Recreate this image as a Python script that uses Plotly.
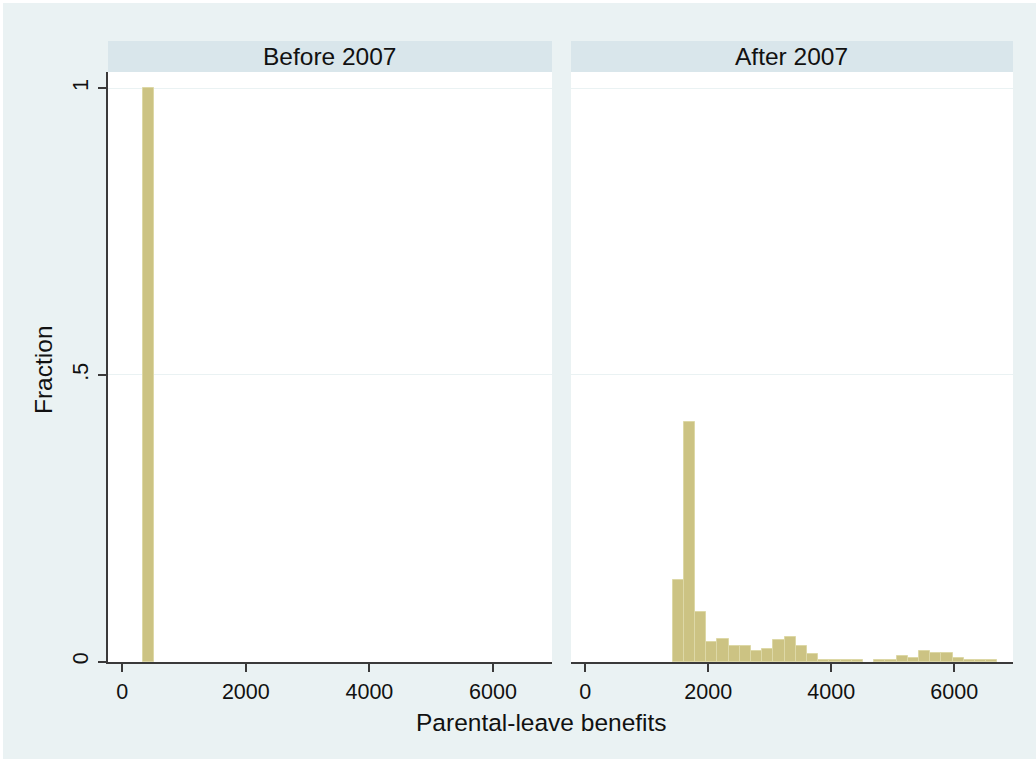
import plotly.graph_objects as go

# ---- data ----
panel_titles = ["Before 2007", "After 2007"]
bin_start = 330
bin_width = 182
frac_before = [1.0] + [0.0] * 35
frac_after = [0, 0, 0, 0, 0, 0,
              0.142, 0.417, 0.0855, 0.0335, 0.040, 0.0272, 0.0272, 0.0185, 0.021,
              0.037, 0.043, 0.0272, 0.0125, 0.003, 0.003, 0.003, 0.003, 0.0,
              0.003, 0.003, 0.0096, 0.0066, 0.019, 0.0154, 0.0154, 0.0066,
              0.003, 0.003, 0.003]
x_ticks = [0, 2000, 4000, 6000]
y_ticks = [0, 0.5, 1]
y_ticklabels = ["0", ".5", "1"]
x_title = "Parental-leave benefits"
y_title = "Fraction"

W, H = 1036, 759
ML, MR, MT, MB = 108, 23, 72, 97
PW = W - ML - MR
PH = H - MT - MB

BG = "#EAF2F3"
STRIP = "#D9E6EB"
BAR = "#CCC383"
BAR_LINE = "#DDD8A6"
AXIS = "#3a3a3a"
FONT = "Liberation Sans, Arial, sans-serif"

def px_x(p):
    return (p - ML) / PW

def px_y(p):
    return (H - MB - p) / PH

fig = go.Figure()
for vals, xa, ya in [(frac_before, "x", "y"), (frac_after, "x2", "y2")]:
    edges = [bin_start + i * bin_width for i, v in enumerate(vals) if v > 0]
    heights = [v for v in vals if v > 0]
    fig.add_trace(go.Bar(
        x=edges, y=heights, width=bin_width, offset=0,
        marker=dict(color=BAR, line=dict(color=BAR_LINE, width=1)),
        xaxis=xa, yaxis=ya,
        showlegend=False, hoverinfo="x+y",
    ))

dom1 = [0, px_x(552)]
dom2 = [px_x(571), 1]
xrange = [-230, 6955]
yrange = [-0.00087, 1.0284]

xcommon = dict(range=xrange, tickvals=x_ticks, ticks="outside", ticklen=8,
               tickwidth=1.5, tickcolor=AXIS, showline=True, linecolor=AXIS,
               linewidth=2, showgrid=False, zeroline=False,
               tickfont=dict(family=FONT, size=21.5, color="#111"),
               ticklabelstandoff=1)
fig.update_layout(
    xaxis=dict(domain=dom1, anchor="y", **xcommon),
    xaxis2=dict(domain=dom2, anchor="y2", **xcommon),
    yaxis=dict(domain=[0, 1], anchor="x", range=yrange, tickvals=y_ticks,
               ticktext=y_ticklabels, ticks="outside", ticklen=8, tickwidth=1.5,
               tickcolor=AXIS, showline=True, linecolor=AXIS, linewidth=1.5,
               showgrid=True, gridcolor=BG, gridwidth=1, zeroline=False,
               tickangle=-90, ticklabelstandoff=2,
               tickfont=dict(family=FONT, size=21.5, color="#111")),
    yaxis2=dict(domain=[0, 1], anchor="x2", range=yrange, tickvals=y_ticks,
                showticklabels=False, ticks="", showline=False,
                showgrid=True, gridcolor=BG, gridwidth=1, zeroline=False),
    width=W, height=H,
    margin=dict(l=ML, r=MR, t=MT, b=MB, pad=0),
    paper_bgcolor="white", plot_bgcolor="white",
    bargap=0,
)

shapes = [
    # outer graph region (3px white border at top/left)
    dict(type="rect", xref="paper", yref="paper", layer="below",
         x0=px_x(3), x1=px_x(W), y0=px_y(H), y1=px_y(3),
         fillcolor=BG, line=dict(width=0)),
    # plot regions
    dict(type="rect", xref="paper", yref="paper", layer="below",
         x0=dom1[0], x1=dom1[1], y0=0, y1=1, fillcolor="white", line=dict(width=0)),
    dict(type="rect", xref="paper", yref="paper", layer="below",
         x0=dom2[0], x1=dom2[1], y0=0, y1=1, fillcolor="white", line=dict(width=0)),
    # strips
    dict(type="rect", xref="paper", yref="paper", layer="below",
         x0=dom1[0], x1=dom1[1], y0=px_y(72), y1=px_y(41), fillcolor=STRIP, line=dict(width=0)),
    dict(type="rect", xref="paper", yref="paper", layer="below",
         x0=dom2[0], x1=dom2[1], y0=px_y(72), y1=px_y(41), fillcolor=STRIP, line=dict(width=0)),
]
fig.update_layout(shapes=shapes)

annotations = []
for title, dom in zip(panel_titles, [dom1, dom2]):
    annotations.append(dict(text=title, xref="paper", yref="paper",
                            x=(dom[0] + dom[1]) / 2, y=px_y(56.5), showarrow=False,
                            xanchor="center", yanchor="middle",
                            font=dict(family=FONT, size=24.5, color="#111")))
annotations.append(dict(text=x_title, xref="paper", yref="paper",
                        x=px_x(541.7), y=px_y(722), showarrow=False,
                        xanchor="center", yanchor="middle",
                        font=dict(family=FONT, size=24.5, color="#111")))
annotations.append(dict(text=y_title, xref="paper", yref="paper",
                        x=px_x(43), y=px_y(370), showarrow=False, textangle=-90,
                        xanchor="center", yanchor="middle",
                        font=dict(family=FONT, size=24.5, color="#111")))
fig.update_layout(annotations=annotations)

fig.write_html("out.html", config={"displayModeBar": False},
               post_script="document.body.style.margin='0';")
